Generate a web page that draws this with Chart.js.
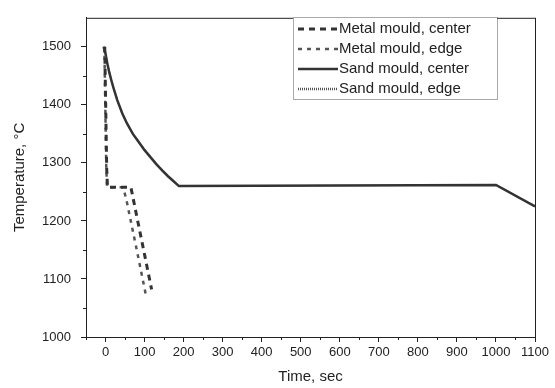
<!DOCTYPE html>
<html>
<head>
<meta charset="utf-8">
<script src="https://cdn.jsdelivr.net/npm/chart.js@4.4.1/dist/chart.umd.min.js"></script>
<style>
  html, body { margin: 0; padding: 0; background: #fff; }
  #wrap { width: 555px; height: 388px; }
</style>
</head>
<body>
<div id="wrap"><canvas id="chart" width="555" height="388"></canvas></div>
<script>
// values
const sandTime   = [-5, 0, 5, 10, 15, 20, 30, 43, 55, 70, 85, 100, 115, 130, 145, 160, 175, 188, 1000, 1100];
const sandCenter = [1500, 1488, 1470, 1455, 1442, 1430, 1408, 1385, 1368, 1350, 1336, 1322, 1310, 1298, 1287, 1277, 1268, 1260, 1262, 1225];
const sandEdge   = [1500, 1489, 1471, 1456, 1443, 1431, 1409, 1386, 1369, 1351, 1337, 1323, 1311, 1299, 1288, 1278, 1268, 1260, 1262, 1226];

const metalCenterTime = [-2, 3, 5, 30, 65, 80, 100, 118];
const metalCenter     = [1500, 1290, 1258, 1258, 1258, 1208, 1142, 1082];
const metalEdgeTime   = [-3, 2, 4, 30, 45, 53, 80, 105];
const metalEdge       = [1500, 1290, 1258, 1258, 1258, 1238, 1150, 1067];

const xTicks = [0, 100, 200, 300, 400, 500, 600, 700, 800, 900, 1000, 1100];
const xMinor = [-50, 50, 150, 250, 350, 450, 550, 650, 750, 850, 950, 1050];
const yTicks = [1000, 1100, 1200, 1300, 1400, 1500];
const yMinor = [1050, 1150, 1250, 1350, 1450];

const seriesNames = ['Metal mould, center', 'Metal mould, edge', 'Sand mould, center', 'Sand mould, edge'];

function pts(xs, ys) {
    return xs.map((x, i) => ({ x: x, y: ys[i] }));
}

const frameAndLegend = {
    id: 'frameAndLegend',
    afterDraw(chart) {
        const ctx = chart.ctx;
        const a = chart.chartArea;
        const xs = chart.scales.x, ys = chart.scales.y;
        ctx.save();
        // box around plot
        ctx.strokeStyle = '#222';
        ctx.lineWidth = 1;
        ctx.strokeRect(a.left + 0.5, a.top + 0.5, a.right - a.left, a.bottom - a.top);
        // minor ticks
        ctx.beginPath();
        xMinor.forEach(v => {
            const px = Math.round(xs.getPixelForValue(v)) + 0.5;
            ctx.moveTo(px, a.bottom); ctx.lineTo(px, a.bottom + 3);
        });
        yMinor.forEach(v => {
            const py = Math.round(ys.getPixelForValue(v)) + 0.5;
            ctx.moveTo(a.left, py); ctx.lineTo(a.left - 3, py);
        });
        ctx.stroke();

        // legend
        const lx = 293, ly = 17, lw = 204, lh = 82;
        ctx.fillStyle = '#fff';
        ctx.fillRect(lx, ly, lw, lh);
        ctx.setLineDash([1, 1]);
        ctx.strokeStyle = '#555';
        ctx.strokeRect(lx + 0.5, ly + 0.5, lw, lh);
        ctx.font = '15px "Liberation Sans", Arial, sans-serif';
        ctx.textBaseline = 'middle';
        ctx.textAlign = 'left';
        chart.data.datasets.forEach((ds, i) => {
            const y = ly + 12 + i * 20;
            ctx.setLineDash(ds.borderDash || []);
            ctx.strokeStyle = i === 3 ? '#555' : ds.borderColor;
            ctx.lineWidth = i === 3 ? 2.5 : ds.borderWidth;
            ctx.beginPath();
            ctx.moveTo(lx + 5, y);
            ctx.lineTo(lx + 45, y);
            ctx.stroke();
            ctx.setLineDash([]);
            ctx.fillStyle = '#222';
            ctx.fillText(ds.label, lx + 46, y);
        });
        ctx.restore();
    }
};

const tickFont = { family: '"Liberation Sans", Arial, sans-serif', size: 13 };
const titleFont = { family: '"Liberation Sans", Arial, sans-serif', size: 15 };

new Chart(document.getElementById('chart'), {
    type: 'scatter',
    data: {
        datasets: [
            {
                label: seriesNames[0],
                data: pts(metalCenterTime, metalCenter),
                showLine: true, pointRadius: 0,
                borderColor: '#333', borderWidth: 3, borderDash: [6, 5]
            },
            {
                label: seriesNames[1],
                data: pts(metalEdgeTime, metalEdge),
                showLine: true, pointRadius: 0,
                borderColor: '#555', borderWidth: 2.5, borderDash: [4, 5]
            },
            {
                label: seriesNames[2],
                data: pts(sandTime, sandCenter),
                showLine: true, pointRadius: 0,
                borderColor: '#333', borderWidth: 2.5
            },
            {
                label: seriesNames[3],
                data: pts(sandTime, sandEdge),
                showLine: true, pointRadius: 0,
                borderColor: '#888', borderWidth: 1.5, borderDash: [1, 1]
            }
        ]
    },
    options: {
        responsive: false,
        animation: false,
        layout: { padding: { left: 0, right: 20, top: 8, bottom: 0 } },
        plugins: { legend: { display: false }, tooltip: { enabled: false } },
        scales: {
            x: {
                type: 'linear',
                min: -50, max: 1100,
                afterBuildTicks: s => { s.ticks = xTicks.map(v => ({ value: v })); },
                afterFit: s => { s.height = 51; },
                grid: { drawOnChartArea: false, tickLength: 5, color: '#222' },
                border: { color: '#222' },
                ticks: {
                    padding: 3, color: '#222', maxRotation: 0, autoSkip: false,
                    font: tickFont,
                    callback: v => String(v)
                },
                title: {
                    display: true, text: 'Time, sec', color: '#222',
                    padding: { top: 0, bottom: 2 },
                    font: titleFont
                }
            },
            y: {
                min: 1000, max: 1550,
                afterBuildTicks: s => { s.ticks = yTicks.map(v => ({ value: v })); },
                afterFit: s => { s.width = 86; },
                grid: { drawOnChartArea: false, tickLength: 5, color: '#222' },
                border: { color: '#222' },
                ticks: {
                    padding: 10, color: '#222',
                    font: tickFont,
                    callback: v => String(v)
                },
                title: {
                    display: true, text: 'Temperature, °C', color: '#222',
                    padding: { top: 11, bottom: 0 },
                    font: titleFont
                }
            }
        }
    },
    plugins: [frameAndLegend]
});
</script>
</body>
</html>
